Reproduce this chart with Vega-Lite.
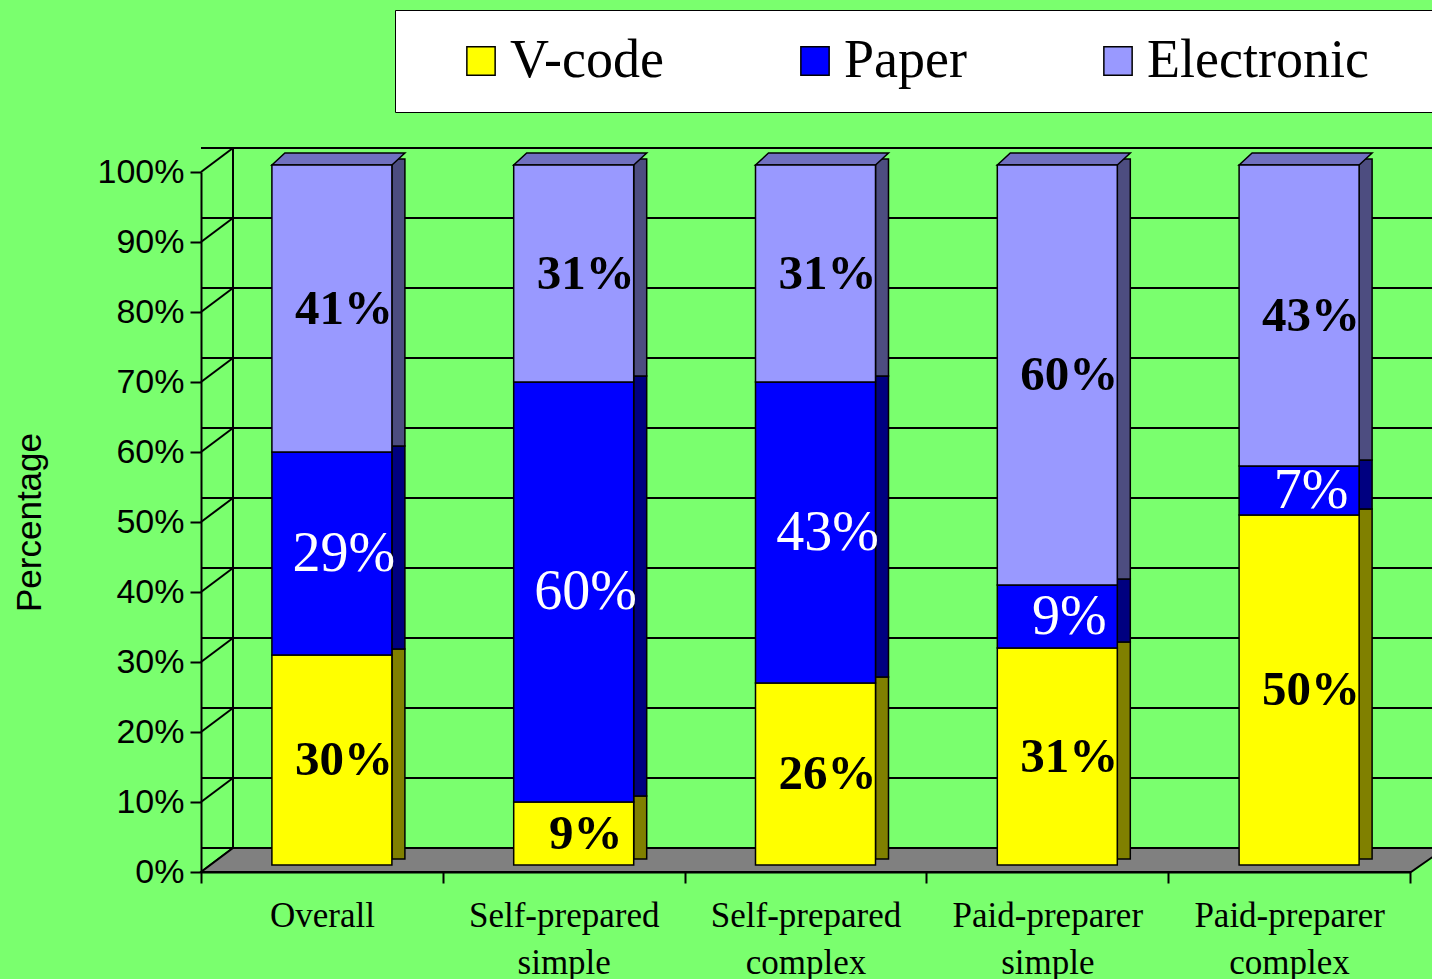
{
  "$schema": "https://vega.github.io/schema/vega-lite/v6.json",
  "width": 1209,
  "height": 700,
  "autosize": "none",
  "padding": {"left": 201, "top": 172, "right": 22, "bottom": 107},
  "background": "#7AFF6E",
  "config": {"view": {"stroke": null}},
  "datasets": {
    "shares": [
      {"group": "Overall", "method": "V-code", "share": 0.30},
      {"group": "Overall", "method": "Paper", "share": 0.29},
      {"group": "Overall", "method": "Electronic", "share": 0.41},
      {"group": "Self-prepared simple", "method": "V-code", "share": 0.09},
      {"group": "Self-prepared simple", "method": "Paper", "share": 0.60},
      {"group": "Self-prepared simple", "method": "Electronic", "share": 0.31},
      {"group": "Self-prepared complex", "method": "V-code", "share": 0.26},
      {"group": "Self-prepared complex", "method": "Paper", "share": 0.43},
      {"group": "Self-prepared complex", "method": "Electronic", "share": 0.31},
      {"group": "Paid-preparer simple", "method": "V-code", "share": 0.31},
      {"group": "Paid-preparer simple", "method": "Paper", "share": 0.09},
      {"group": "Paid-preparer simple", "method": "Electronic", "share": 0.60},
      {"group": "Paid-preparer complex", "method": "V-code", "share": 0.50},
      {"group": "Paid-preparer complex", "method": "Paper", "share": 0.07},
      {"group": "Paid-preparer complex", "method": "Electronic", "share": 0.43}
    ],
    "ticks": [
      {"v": 0}, {"v": 0.1}, {"v": 0.2}, {"v": 0.3}, {"v": 0.4}, {"v": 0.5},
      {"v": 0.6}, {"v": 0.7}, {"v": 0.8}, {"v": 0.9}, {"v": 1}
    ]
  },
  "layer": [
    {
      "data": {"name": "ticks"},
      "mark": {"type": "rule", "color": "black", "strokeWidth": 2, "xOffset": 32, "x2Offset": 22, "yOffset": -24},
      "encoding": {
        "y": {"field": "v", "type": "quantitative", "scale": {"domain": [0, 1], "nice": false}}
      }
    },
    {
      "data": {"name": "ticks"},
      "mark": {"type": "point", "shape": "M -604.5 0 L -572.5 -24", "size": 4, "filled": false, "color": "black", "strokeWidth": 2, "opacity": 1},
      "encoding": {
        "y": {"field": "v", "type": "quantitative"}
      }
    },
    {
      "data": {"values": [{"part": "floor"}]},
      "mark": {"type": "point", "shape": "M -604.5 0 L -572.5 -24 L 640 -24 L 605.5 0 Z M -572.5 -24 L -572.5 -724", "size": 4, "filled": true, "fill": "#808080", "stroke": "black", "strokeWidth": 2, "opacity": 1},
      "encoding": {
        "y": {"datum": 0, "type": "quantitative"}
      }
    },
    {
      "data": {"name": "shares"},
      "mark": {"type": "bar", "width": 13, "xOffset": 76.5, "yOffset": -13, "y2Offset": -13, "stroke": "black", "strokeWidth": 1.5},
      "encoding": {
        "x": {"field": "group", "type": "nominal", "sort": null, "scale": {"paddingInner": 0, "paddingOuter": 0}},
        "y": {"field": "share", "type": "quantitative", "stack": "zero"},
        "fill": {"field": "method", "type": "nominal", "scale": {"domain": ["V-code", "Paper", "Electronic"], "range": ["#808000", "#000080", "#4D4D80"]}, "legend": null},
        "detail": {"field": "method"},
        "order": {"field": "method", "sort": "descending"}
      }
    },
    {
      "data": {"name": "shares"},
      "transform": [{"filter": "datum.method === 'Electronic'"}],
      "mark": {"type": "point", "shape": "M -50 -7 L -37 -19 L 83 -19 L 70 -7 Z", "size": 4, "filled": true, "fill": "#7070C0", "stroke": "black", "strokeWidth": 1.5, "opacity": 1},
      "encoding": {
        "x": {"field": "group", "type": "nominal", "sort": null},
        "y": {"datum": 1, "type": "quantitative"}
      }
    },
    {
      "data": {"name": "shares"},
      "mark": {"type": "bar", "width": 120, "xOffset": 10, "yOffset": -7, "y2Offset": -7, "stroke": "black", "strokeWidth": 1.5},
      "encoding": {
        "x": {
          "field": "group", "type": "nominal", "sort": null,
          "axis": {
            "title": null, "labelAngle": 0, "labelAlign": "center", "labelBaseline": "top",
            "labelLimit": 0, "labelFlush": false, "labelOverlap": false,
            "labelFont": "Liberation Serif", "labelFontSize": 35,
            "labelColor": "black", "labelExpr": "split(datum.label, ' ')", "labelLineHeight": 47,
            "labelPadding": 15, "tickBand": "extent", "tickSize": 11, "tickWidth": 2, "tickColor": "black",
            "domainColor": "black", "domainWidth": 2, "grid": false
          }
        },
        "y": {
          "field": "share", "type": "quantitative", "stack": "zero",
          "axis": {
            "title": "Percentage", "values": [0, 0.1, 0.2, 0.3, 0.4, 0.5, 0.6, 0.7, 0.8, 0.9, 1],
            "format": ".0%", "labelFont": "Liberation Sans", "labelFontSize": 34, "labelColor": "black",
            "labelPadding": 6, "tickSize": 11, "tickWidth": 2, "tickColor": "black",
            "domainColor": "black", "domainWidth": 2, "grid": false,
            "titleFont": "Liberation Sans", "titleFontSize": 35, "titleFontWeight": "normal",
            "titleColor": "black", "titlePadding": 50
          }
        },
        "color": {
          "field": "method", "type": "nominal",
          "scale": {"domain": ["V-code", "Paper", "Electronic", " "], "range": ["#FFFF00", "#0000FF", "#9999FF", "rgba(0,0,0,0)"]},
          "legend": {
            "orient": "none", "legendX": 194, "legendY": -162, "direction": "horizontal",
            "title": " ", "titleOrient": "left", "titleFontSize": 1, "titlePadding": 35,
            "fillColor": "white", "strokeColor": "black", "padding": 24,
            "symbolType": "square", "symbolSize": 800, "symbolStrokeWidth": 1.5, "symbolOpacity": 1,
            "labelFont": "Liberation Serif", "labelFontSize": 54, "labelColor": "black", "labelLimit": 0,
            "labelOffset": 2, "columnPadding": 124,
            "values": ["V-code", "Paper", "Electronic", " "],
            "encode": {
              "symbols": {"update": {"stroke": {"signal": "datum.value === ' ' ? 'transparent' : 'black'"}}},
              "legend": {"update": {"strokeWidth": {"value": 2}}}
            }
          }
        },
        "order": {"field": "method", "sort": "descending"}
      }
    },
    {
      "data": {"name": "shares"},
      "mark": {"type": "text", "font": "Liberation Serif", "fontWeight": "bold", "fontSize": 49, "dx": 22, "dy": -7, "align": "center", "baseline": "middle", "color": "black"},
      "encoding": {
        "x": {"field": "group", "type": "nominal", "sort": null},
        "y": {"field": "share", "type": "quantitative", "stack": "zero", "bandPosition": 0.5},
        "detail": {"field": "method"},
        "order": {"field": "method", "sort": "descending"},
        "text": {"condition": {"test": "datum.method === 'Paper'", "value": ""}, "field": "share", "type": "quantitative", "format": ".0%"}
      }
    },
    {
      "data": {"name": "shares"},
      "mark": {"type": "text", "font": "Liberation Serif", "fontWeight": "normal", "fontSize": 56, "dx": 22, "dy": -7, "align": "center", "baseline": "middle", "color": "white"},
      "encoding": {
        "x": {"field": "group", "type": "nominal", "sort": null},
        "y": {"field": "share", "type": "quantitative", "stack": "zero", "bandPosition": 0.5},
        "detail": {"field": "method"},
        "order": {"field": "method", "sort": "descending"},
        "text": {"condition": {"test": "datum.method !== 'Paper'", "value": ""}, "field": "share", "type": "quantitative", "format": ".0%"}
      }
    }
  ]
}
